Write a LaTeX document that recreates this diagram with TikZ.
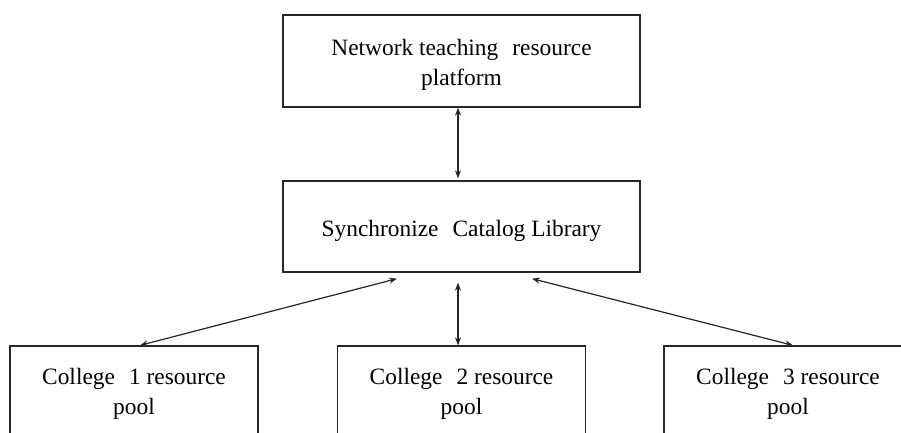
\documentclass[tikz,border=0pt]{standalone}
\usepackage{fontspec}
\setmainfont{Liberation Serif}
\usetikzlibrary{arrows.meta,calc}
\begin{document}
\begin{tikzpicture}[x=1pt,y=-1pt,
  txt/.style={align=center,font=\fontsize{23.4}{30}\selectfont,inner sep=0pt},
  box/.style={draw=black!85,line width=1.3pt,minimum width=357pt,inner sep=0pt},
  pool/.style={box,minimum width=248pt,minimum height=90pt},
  link/.style={line width=1.2pt,draw=black!85,
    {Stealth[length=8pt,width=6pt]}-{Stealth[length=8pt,width=6pt]}}]
\useasboundingbox (0,0) rectangle (901,432);
\clip (0,0) rectangle (901,432);
\node[box,minimum height=92pt,label={[txt,yshift=-4pt]center:Network teaching\hspace{0.35em} resource\\platform}] (top) at (461.5,61) {};
\node[box,minimum height=91pt,label={[txt,yshift=-4pt]center:Synchronize\hspace{0.35em} Catalog Library}] (mid) at (461.5,226.5) {};
\node[pool,label={[txt,yshift=-3pt]center:College\hspace{0.35em} 1 resource\\pool}] (c1) at (134,391) {};
\node[pool,label={[txt,yshift=-3pt]center:College\hspace{0.35em} 2 resource\\pool}] (c2) at (461.5,391) {};
\node[pool,label={[txt,yshift=-3pt]center:College\hspace{0.35em} 3 resource\\pool}] (c3) at (788,391) {};
\coordinate (mL) at ($(mid.south)+(-64.5,6)$);
\coordinate (mC) at ($(mid.south)+(-3.5,10)$);
\coordinate (mR) at ($(mid.south)+(70.5,6)$);
\draw[link] ($(top.south)+(-3.5,0)$) -- ($(mid.north)+(-3.5,-2)$);
\draw[link] (mL) -- ($(c1.north)+(6,0)$);
\draw[link] (mC) -- ($(c2.north)+(-3.5,0)$);
\draw[link] (mR) -- ($(c3.north)+(5,0)$);
\end{tikzpicture}
\end{document}
